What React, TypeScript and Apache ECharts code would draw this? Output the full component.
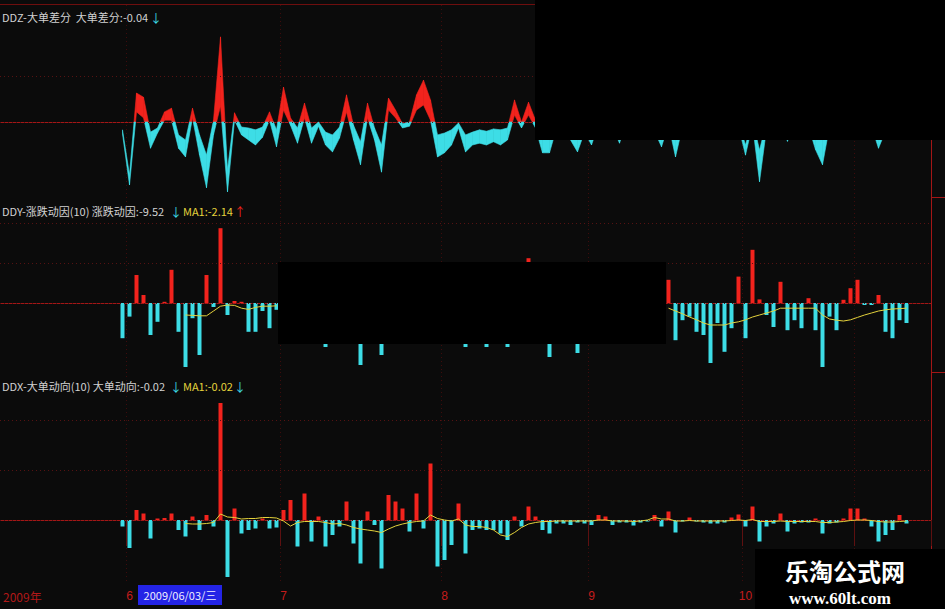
import React, { useEffect, useRef } from 'react';
import * as echarts from 'echarts';

// ---------------- data ----------------
const MONTH_DAYS: [number, number, number[]][] = [
  [2009, 5, [27]],
  [2009, 6, [1, 2, 3, 4, 5, 8, 9, 10, 11, 12, 15, 16, 17, 18, 19, 22, 23, 24, 25, 26, 29, 30]],
  [2009, 7, [1, 2, 3, 6, 7, 8, 9, 10, 13, 14, 15, 16, 17, 20, 21, 22, 23, 24, 27, 28, 29, 30, 31]],
  [2009, 8, [3, 4, 5, 6, 7, 10, 11, 12, 13, 14, 17, 18, 19, 20, 21, 24, 25, 26, 27, 28, 31]],
  [2009, 9, [1, 2, 3, 4, 7, 8, 9, 10, 11, 14, 15, 16, 17, 18, 21, 22, 23, 24, 25, 28, 29, 30]],
  [2009, 10, [9, 12, 13, 14, 15, 16, 19, 20, 21, 22, 23, 26, 27, 28, 29, 30]],
  [2009, 11, [2, 3, 4, 5, 6, 9, 10, 11]],
];
const LABELED_MONTHS = [6, 7, 8, 9, 10];
const PAD_BEFORE = 17;
const PAD_AFTER = 3;

// DDZ ribbon: upper and lower edge
const DDZ_HI = [
  -0.17, -1.15, 0.63, 0.54, -0.22, -0.13, 0.22, 0.30, -0.28, -0.39,
  0.30, -0.28, -0.72, 0.04, 1.85, -1.04, 0.20, -0.11, -0.13, -0.17,
  -0.11, 0.22, -0.17, 0.76, 0.09, -0.13, 0.41, -0.13, 0.00, -0.22,
  -0.28, -0.11, 0.59, -0.07, -0.43, 0.41, -0.13, -0.50, 0.52, 0.26,
  -0.04, 0.00, 0.59, 0.91, 0.48, -0.28, -0.24, -0.17, -0.02, -0.28,
  -0.22, -0.17, -0.20, -0.15, -0.17, -0.13, 0.48, 0.00, 0.43, 0.04,
  -0.35, -0.35, 0.00, 0.10, -0.13, -0.28, -0.07, -0.17, 0.10, 0.15,
  0.00, -0.13, 0.10, 0.20, 0.10, 0.00, -0.05, -0.17, 0.05, -0.28,
  0.00, 0.15, 0.20, 0.10, 0.20, 0.10, 0.00, 0.10, 0.00, -0.50,
  0.05, -0.61, 0.00, 0.10, 0.05, -0.13, 0.10, 0.20, 0.05, -0.17,
  -0.39, 0.00, 0.10, 0.15, 0.10, 0.20, 0.10, 0.00, -0.17, 0.00,
  0.10, 0.05, 0.00,
];
const DDZ_LO = [
  -0.26, -1.37, 0.22, 0.09, -0.57, -0.24, 0.04, 0.04, -0.57, -0.76,
  0.09, -0.72, -1.43, -0.28, 0.35, -1.52, 0.04, -0.28, -0.39, -0.50,
  -0.33, 0.04, -0.54, 0.26, -0.07, -0.46, 0.09, -0.46, -0.09, -0.50,
  -0.65, -0.35, 0.22, -0.39, -0.93, 0.09, -0.39, -1.09, 0.26, 0.09,
  -0.13, -0.09, 0.26, 0.37, 0.04, -0.76, -0.67, -0.50, -0.13, -0.65,
  -0.50, -0.46, -0.50, -0.43, -0.50, -0.39, 0.15, -0.13, 0.15, -0.13,
  -0.67, -0.67, -0.13, 0.00, -0.39, -0.65, -0.22, -0.50, -0.05, 0.00,
  -0.10, -0.46, 0.00, 0.05, 0.00, -0.10, -0.20, -0.54, -0.05, -0.76,
  -0.10, 0.00, 0.05, 0.00, 0.05, 0.00, -0.10, 0.00, -0.10, -0.72,
  -0.05, -1.30, -0.15, 0.00, -0.10, -0.42, 0.00, 0.05, -0.10, -0.60,
  -0.93, -0.10, 0.00, 0.05, 0.00, 0.05, 0.00, -0.10, -0.57, -0.20,
  0.00, -0.05, -0.08,
];

// DDY bars (null = hidden under the black patch)
const DDY = [
  -0.88, -0.34, 0.70, 0.20, -0.80, -0.47, 0.03, 0.83, -0.72, -1.60,
  -0.38, -1.30, 0.70, -0.10, 1.87, -0.30, 0.05, 0.03, -0.72, -0.72,
  -0.20, -0.63, -0.17, null, null, null, null, null, null, -1.10,
  null, null, null, null, -1.55, null, null, -1.30, null, null,
  null, null, null, null, null, null, null, null, null, -1.10,
  null, null, -1.10, null, null, -1.10, null, null, 1.12, null,
  null, -1.35, null, null, null, -1.25, null, null, null, null,
  null, null, null, null, null, null, null, null, 0.58, -0.93,
  -0.43, -0.34, -0.72, -0.80, -1.50, -0.50, -1.22, -0.63, 0.66, -0.88,
  1.33, 0.09, -0.30, -0.60, 0.53, -0.68, -0.43, -0.63, 0.12, -0.68,
  -1.60, -0.34, -0.68, 0.08, 0.37, 0.58, -0.05, -0.05, 0.20, -0.72,
  -0.88, -0.43, -0.50,
];
const DDY_MA = [
  null, null, null, null, null, null, null, null, null, -0.30,
  -0.31, -0.32, -0.32, -0.20, -0.08, -0.05, -0.06, -0.13, -0.16, -0.11,
  -0.08, -0.08, -0.07, null, null, null, null, null, null, null,
  null, null, null, null, null, null, null, null, null, null,
  null, null, null, null, null, null, null, null, null, null,
  null, null, null, null, null, null, null, null, null, null,
  null, null, null, null, null, null, null, null, null, null,
  null, null, null, null, null, null, null, null, -0.13, -0.20,
  -0.27, -0.35, -0.42, -0.50, -0.55, -0.55, -0.55, -0.50, -0.47, -0.42,
  -0.35, -0.30, -0.25, -0.20, -0.13, -0.13, -0.13, -0.13, -0.13, -0.13,
  -0.30, -0.40, -0.43, -0.45, -0.42, -0.36, -0.30, -0.25, -0.20, -0.17,
  -0.15, -0.14, -0.13,
];

// DDX bars
const DDX = [
  -0.13, -0.56, 0.20, 0.13, -0.37, 0.03, 0.04, 0.13, -0.20, -0.33,
  0.07, -0.20, 0.10, -0.13, 2.34, -1.14, 0.23, -0.27, -0.20, -0.17,
  0.03, -0.17, -0.15, 0.20, 0.40, -0.53, 0.53, -0.43, 0.07, -0.53,
  -0.30, -0.13, 0.37, -0.47, -0.87, 0.17, -0.10, -0.97, 0.50, 0.37,
  0.23, -0.23, 0.53, -0.17, 1.13, -0.93, -0.80, -0.50, 0.33, -0.67,
  -0.20, -0.17, -0.20, -0.20, -0.27, -0.40, 0.07, -0.13, 0.27, 0.07,
  -0.20, -0.27, -0.07, -0.07, -0.10, -0.05, -0.07, -0.10, 0.10, 0.07,
  -0.10, -0.05, -0.05, -0.11, -0.05, -0.03, 0.10, -0.13, 0.17, -0.25,
  -0.03, 0.05, -0.03, -0.05, -0.07, -0.07, -0.05, 0.05, 0.11, -0.13,
  0.27, -0.43, -0.13, -0.07, 0.13, -0.23, -0.07, -0.05, -0.05, 0.03,
  -0.27, -0.07, -0.05, 0.03, 0.23, 0.23, 0.03, -0.13, -0.43, -0.30,
  -0.20, 0.10, -0.07,
];
const DDX_MA = [
  null, null, null, null, null, null, null, null, null, -0.07,
  -0.08, -0.08, -0.07, -0.05, 0.12, 0.06, 0.05, 0.02, 0.03, 0.03,
  0.05, 0.05, 0.04, -0.02, -0.12, -0.05, -0.03, -0.03, -0.03, -0.05,
  -0.08, -0.07, -0.10, -0.15, -0.18, -0.20, -0.22, -0.25, -0.18, -0.12,
  -0.08, -0.05, -0.03, -0.02, 0.10, 0.03, 0.00, -0.02, 0.02, -0.10,
  -0.13, -0.13, -0.15, -0.20, -0.30, -0.33, -0.25, -0.15, -0.08, -0.05,
  -0.03, -0.03, -0.02, -0.02, -0.02, -0.02, -0.02, -0.02, 0.00, 0.00,
  -0.02, -0.02, -0.02, -0.03, -0.02, 0.00, 0.05, 0.02, 0.02, -0.02,
  -0.02, -0.01, -0.02, -0.02, -0.02, -0.02, -0.02, -0.01, 0.00, -0.01,
  0.01, -0.03, -0.03, -0.03, -0.02, -0.03, -0.03, -0.03, -0.03, -0.03,
  -0.05, -0.05, -0.04, -0.03, -0.01, 0.00, 0.00, -0.01, -0.03, -0.04,
  -0.04, -0.03, -0.02,
];

const TITLE_DDZ = 'DDZ-大单差分  大单差分:-0.04';
const TITLE_DDY = 'DDY-涨跌动因(10) 涨跌动因:-9.52';
const MA_DDY = 'MA1:-2.14';
const TITLE_DDX = 'DDX-大单动向(10) 大单动向:-0.02';
const MA_DDX = 'MA1:-0.02';
const YEAR_LABEL = '2009年';
const CURSOR_DATE = '2009/06/03/三';

// ---------------- styling ----------------
const RED = '#f2231d';
const CYAN = '#3ddde6';
const YELLOW = '#e4d23c';
const FRAME = '#a31616';
const DOT = '#3e0c0c';
const BG = '#0b0b0b';
const TXT = '#d2d2d2';
const CJK = '"Noto Sans CJK SC", "Noto Sans", sans-serif';

function pad2(n: number) {
  return n < 10 ? '0' + n : String(n);
}

const DATES: string[] = [];
const MONTH_START = new Set<number>();
MONTH_DAYS.forEach(([y, m, days]) => {
  days.forEach((d, k) => {
    if (k === 0 && m !== 5) MONTH_START.add(PAD_BEFORE + DATES.length);
    DATES.push(`${y}/${pad2(m)}/${pad2(d)}`);
  });
});
const CATS: string[] = [
  ...Array.from({ length: PAD_BEFORE }, (_, i) => `b${i}`),
  ...DATES,
  ...Array.from({ length: PAD_AFTER }, (_, i) => `a${i}`),
];
function padArr<T>(arr: T[]): (T | null)[] {
  return [...Array(PAD_BEFORE).fill(null), ...arr, ...Array(PAD_AFTER).fill(null)];
}
const isMonthStart = (idx: number) => MONTH_START.has(idx);
const monthOf = (v: string) => {
  const parts = v.split('/');
  return parts.length === 3 ? parseInt(parts[1], 10) : 0;
};
const isLabeled = (idx: number) => isMonthStart(idx) && LABELED_MONTHS.indexOf(monthOf(CATS[idx])) >= 0;

function clipPoly(pts: number[][], zy: number, above: boolean) {
  const inside = (p: number[]) => (above ? p[1] <= zy : p[1] >= zy);
  const out: number[][] = [];
  for (let k = 0; k < pts.length; k++) {
    const cur = pts[k];
    const prev = pts[(k + pts.length - 1) % pts.length];
    const ci = inside(cur);
    const pi = inside(prev);
    const cross = () => {
      const t = (zy - prev[1]) / (cur[1] - prev[1]);
      return [prev[0] + t * (cur[0] - prev[0]), zy];
    };
    if (ci) {
      if (!pi) out.push(cross());
      out.push(cur);
    } else if (pi) {
      out.push(cross());
    }
  }
  return out;
}

function xAxis(gridIndex: number, withLabels: boolean) {
  return {
    type: 'category',
    gridIndex,
    data: CATS,
    boundaryGap: true,
    axisLine: { show: true, lineStyle: { color: FRAME, width: 1 } },
    axisTick: withLabels
      ? { show: true, interval: (i: number) => isMonthStart(i), length: 26, lineStyle: { color: '#5e1010' } }
      : { show: false },
    axisLabel: withLabels
      ? {
          show: true,
          interval: (i: number) => isLabeled(i),
          formatter: (v: string) => {
            const m = monthOf(v);
            return LABELED_MONTHS.indexOf(m) >= 0 ? String(m) : '';
          },
          color: '#c41c1c',
          fontSize: 12,
          fontFamily: 'Liberation Sans',
          margin: 8,
        }
      : { show: false },
    splitLine: {
      show: true,
      interval: (i: number) => isMonthStart(i),
      lineStyle: { type: [1, 3], color: DOT, width: 1 },
    },
  };
}

function yAxis(gridIndex: number, min: number, max: number) {
  return {
    type: 'value',
    gridIndex,
    min,
    max,
    position: 'right',
    axisLine: { show: true, lineStyle: { color: FRAME, width: 1 } },
    axisTick: { show: false },
    axisLabel: { show: false },
    splitLine: { show: false },
  };
}

function dotted(values: number[]) {
  return {
    silent: true,
    symbol: ['none', 'none'],
    label: { show: false },
    lineStyle: { type: [1, 3], color: '#561212', width: 1 },
    data: values.map((v) => ({ yAxis: v })),
    animation: false,
  };
}

function barData(arr: (number | null)[]) {
  return padArr(arr).map((v) =>
    v == null ? '-' : { value: v, itemStyle: { color: (v as number) >= 0 ? RED : CYAN } }
  );
}

function text(x: number, y: number, s: string, fill: string, font: string, align = 'left') {
  return {
    type: 'text',
    x,
    y,
    z: 110,
    style: { text: s, fill, font, align, verticalAlign: 'middle' },
  };
}

export default function App() {
  const ref = useRef<HTMLDivElement>(null);
  useEffect(() => {
    const chart = echarts.init(ref.current as HTMLDivElement, null, { renderer: 'svg' });
    const option: any = {
      animation: false,
      backgroundColor: BG,
      grid: [
        { left: 0, right: 14, top: 5, height: 192 },
        { left: 0, right: 14, top: 197, height: 175 },
        { left: 0, right: 14, top: 372, height: 210 },
      ],
      xAxis: [xAxis(0, false), xAxis(1, false), xAxis(2, true)],
      yAxis: [
        yAxis(0, -75 / 46, 117 / 46),
        yAxis(1, -69 / 40, 106 / 40),
        yAxis(2, -62 / 50, 148 / 50),
      ],
      series: [
        {
          type: 'custom',
          xAxisIndex: 0,
          yAxisIndex: 0,
          clip: true,
          data: DDZ_HI.map((h, i) => [PAD_BEFORE + i, h, DDZ_LO[i]]),
          encode: { x: 0, y: [1, 2] },
          markLine: dotted([0, 1]),
          renderItem: (params: any, api: any) => {
            const i = params.dataIndex;
            if (i >= DDZ_HI.length - 1) return { type: 'group', children: [] };
            const x0 = PAD_BEFORE + i;
            const x1 = x0 + 1;
            const pts = [
              api.coord([x0, DDZ_HI[i]]),
              api.coord([x1, DDZ_HI[i + 1]]),
              api.coord([x1, DDZ_LO[i + 1]]),
              api.coord([x0, DDZ_LO[i]]),
            ];
            const zy = api.coord([x0, 0])[1];
            const children: any[] = [];
            const up = clipPoly(pts, zy, true);
            const dn = clipPoly(pts, zy, false);
            if (up.length >= 3)
              children.push({ type: 'polygon', shape: { points: up }, style: { fill: RED, stroke: RED, lineWidth: 0.6 } });
            if (dn.length >= 3)
              children.push({ type: 'polygon', shape: { points: dn }, style: { fill: CYAN, stroke: CYAN, lineWidth: 0.6 } });
            return { type: 'group', children };
          },
        },
        {
          type: 'bar',
          xAxisIndex: 1,
          yAxisIndex: 1,
          barWidth: 4,
          data: barData(DDY),
          markLine: dotted([0, 1, 2]),
        },
        {
          type: 'line',
          xAxisIndex: 1,
          yAxisIndex: 1,
          data: padArr(DDY_MA).map((v) => (v == null ? '-' : v)),
          symbol: 'none',
          lineStyle: { color: YELLOW, width: 1 },
          z: 5,
        },
        {
          type: 'bar',
          xAxisIndex: 2,
          yAxisIndex: 2,
          barWidth: 4,
          data: barData(DDX),
          markLine: dotted([0, 1, 2]),
        },
        {
          type: 'line',
          xAxisIndex: 2,
          yAxisIndex: 2,
          data: padArr(DDX_MA).map((v) => (v == null ? '-' : v)),
          symbol: 'none',
          lineStyle: { color: YELLOW, width: 1 },
          z: 5,
        },
      ],
      graphic: {
        elements: [
          { type: 'line', z: 50, shape: { x1: 0, y1: 4.5, x2: 945, y2: 4.5 }, style: { stroke: '#6e0e0e', lineWidth: 1 } },
          { type: 'line', z: 50, shape: { x1: 931, y1: 197.5, x2: 945, y2: 197.5 }, style: { stroke: FRAME, lineWidth: 1 } },
          { type: 'line', z: 50, shape: { x1: 931, y1: 372.5, x2: 945, y2: 372.5 }, style: { stroke: FRAME, lineWidth: 1 } },
          // black patches covering parts of the original
          { type: 'rect', z: 100, shape: { x: 535, y: 0, width: 410, height: 140 }, style: { fill: '#000' } },
          { type: 'rect', z: 100, shape: { x: 278, y: 262, width: 388, height: 82 }, style: { fill: '#000' } },
          // titles
          text(2, 17, TITLE_DDZ, TXT, `11px ${CJK}`),
          text(150, 17, '↓', CYAN, `12px ${CJK}`),
          text(2, 211, TITLE_DDY, TXT, `11px ${CJK}`),
          text(170, 211, '↓', CYAN, `12px ${CJK}`),
          text(183, 211, MA_DDY, YELLOW, `11px ${CJK}`),
          text(234, 211, '↑', RED, `12px ${CJK}`),
          text(2, 386, TITLE_DDX, TXT, `11px ${CJK}`),
          text(170, 386, '↓', CYAN, `12px ${CJK}`),
          text(183, 386, MA_DDX, YELLOW, `11px ${CJK}`),
          text(234, 386, '↓', CYAN, `12px ${CJK}`),
          // axis strip
          text(3, 596, YEAR_LABEL, '#b01818', `12px ${CJK}`),
          { type: 'rect', z: 105, shape: { x: 138, y: 585, width: 84, height: 20 }, style: { fill: '#2424e6' } },
          text(180, 595, CURSOR_DATE, '#eeeeff', `11px ${CJK}`, 'center'),
          // watermark
          { type: 'rect', z: 105, shape: { x: 755, y: 549, width: 190, height: 60 }, style: { fill: '#000' } },
          text(845, 570, '乐淘公式网', '#ffffff', `bold 24px ${CJK}`, 'center'),
          text(840, 598, 'www.60lt.com', '#ffffff', 'bold 17px "Liberation Serif", serif', 'center'),
        ],
      },
    };
    chart.setOption(option);
    return () => chart.dispose();
  }, []);
  return <div ref={ref} style={{ position: 'fixed', left: 0, top: 0, width: 945, height: 609 }} />;
}
